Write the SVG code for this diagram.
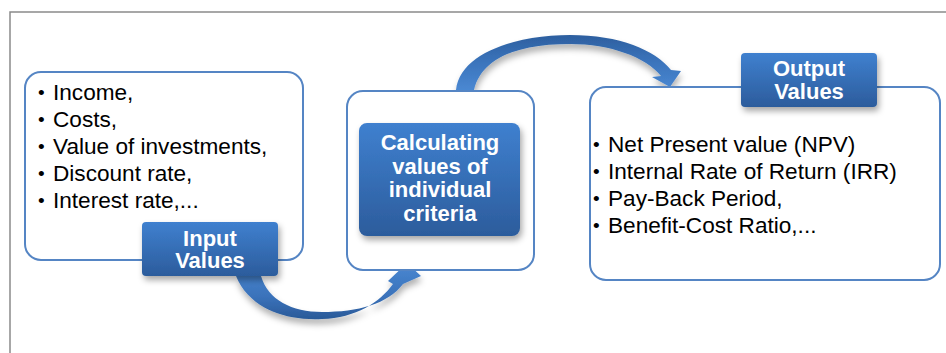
<svg xmlns="http://www.w3.org/2000/svg" width="946" height="353" viewBox="0 0 946 353">
<defs>
<linearGradient id="hdr" x1="0" y1="0" x2="0" y2="1">
<stop offset="0" stop-color="#3f80cf"/>
<stop offset="1" stop-color="#2c5c9c"/>
</linearGradient>
<linearGradient id="arrA" x1="0" y1="0" x2="0" y2="1">
<stop offset="0" stop-color="#4a88d2"/>
<stop offset="0.6" stop-color="#3a72ba"/>
<stop offset="1" stop-color="#2a5a98"/>
</linearGradient>
<linearGradient id="arrB" x1="0" y1="0" x2="0" y2="1">
<stop offset="0" stop-color="#2d5f9f"/>
<stop offset="0.5" stop-color="#3b74bc"/>
<stop offset="1" stop-color="#4a88d2"/>
</linearGradient>
<filter id="sh" x="-20%" y="-20%" width="150%" height="160%">
<feDropShadow dx="2" dy="4" stdDeviation="3" flood-color="#000" flood-opacity="0.35"/>
</filter>
<filter id="ash" x="-20%" y="-30%" width="150%" height="170%">
<feDropShadow dx="1" dy="5" stdDeviation="3" flood-color="#000" flood-opacity="0.3"/>
</filter>
</defs>
<style>
.frame{fill:none;stroke:#8a8a8a;stroke-width:1.5}
.box{fill:#fff;stroke:#5585c4;stroke-width:2}
.hdr{fill:url(#hdr);filter:url(#sh)}
.ht{font-family:"Liberation Sans",Arial,sans-serif;font-weight:bold;font-size:22px;fill:#fff;text-anchor:middle}
.bt{font-family:"Liberation Sans",Arial,sans-serif;font-size:22.6px;fill:#000}
.bl{font-family:"Liberation Sans",Arial,sans-serif;font-size:19px;fill:#000}
</style>
<rect width="946" height="353" fill="#fff"/>
<path class="frame" d="M10 353 V12 H946"/>

<g id="connectors">
<path filter="url(#ash)" fill="url(#arrA)" d="M236 276 C248 306 282 321 322 319 C356 318 380 302 393 284 L388 281 L407 263 L421 276 L403 284 C388 304 358 312 322 312 C292 312 268 300 261 276 Z"/>
<path filter="url(#ash)" fill="url(#arrB)" d="M456 90 C460 52 518 35 570 35 C620 35 655 50 671 70 L681 71 L670 87 L652 77 L661 76 C646 57 610 44 570 44 C522 44 482 56 474 90 Z"/>
</g>

<g id="input">
<rect class="box" x="25" y="72" width="278" height="188" rx="16"/>
<text class="bl" x="38" y="99">•</text><text class="bt" x="53" y="100">Income,</text>
<text class="bl" x="38" y="126">•</text><text class="bt" x="53" y="127">Costs,</text>
<text class="bl" x="38" y="153">•</text><text class="bt" x="53" y="154">Value of investments,</text>
<text class="bl" x="38" y="180">•</text><text class="bt" x="53" y="181">Discount rate,</text>
<text class="bl" x="38" y="207">•</text><text class="bt" x="53" y="208">Interest rate,...</text>
</g>
<g id="input-label">
<rect class="hdr" x="142" y="222" width="136" height="54" rx="4"/>
<text class="ht" x="210" y="246">Input</text>
<text class="ht" x="210" y="268">Values</text>
</g>

<g id="calc">
<rect class="box" x="347" y="91" width="187" height="179" rx="16"/>
<rect class="hdr" x="359" y="123" width="161" height="113" rx="8"/>
<text class="ht" x="440" y="150">Calculating</text>
<text class="ht" x="440" y="174">values of</text>
<text class="ht" x="440" y="197">individual</text>
<text class="ht" x="440" y="221">criteria</text>
</g>

<g id="output">
<rect class="box" x="590" y="87" width="350" height="193" rx="16"/>
<text class="bl" x="593" y="151">•</text><text class="bt" x="608" y="152">Net Present value (NPV)</text>
<text class="bl" x="593" y="178">•</text><text class="bt" x="608" y="179">Internal Rate of Return (IRR)</text>
<text class="bl" x="593" y="205">•</text><text class="bt" x="608" y="206">Pay-Back Period,</text>
<text class="bl" x="593" y="232">•</text><text class="bt" x="608" y="233">Benefit-Cost Ratio,...</text>
</g>
<g id="output-label">
<rect class="hdr" x="741" y="53" width="136" height="54" rx="4"/>
<text class="ht" x="809" y="76">Output</text>
<text class="ht" x="809" y="99">Values</text>
</g>
</svg>
